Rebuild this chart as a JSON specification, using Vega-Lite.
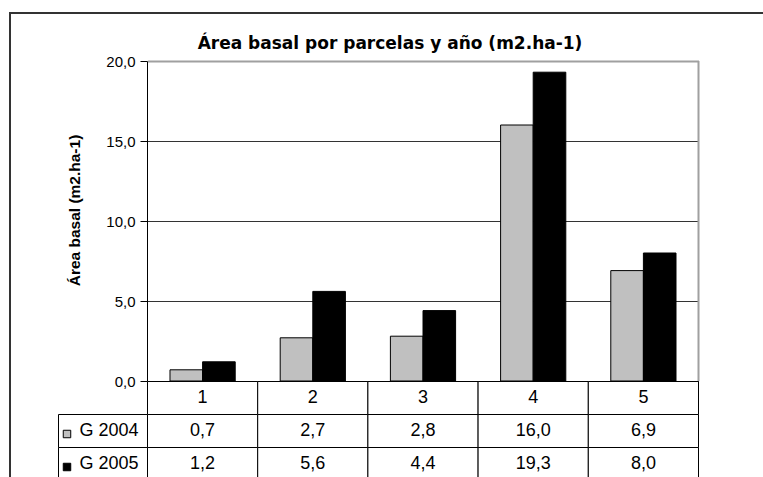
{
  "$schema": "https://vega.github.io/schema/vega-lite/v6.json",
  "width": 760,
  "height": 470,
  "autosize": {"type": "none"},
  "padding": {"left": 10, "top": 13, "right": -7, "bottom": -6},
  "title": {"text": "Área basal por parcelas y año (m2.ha-1)", "font": "DejaVu Sans", "fontSize": 17, "fontWeight": "bold", "color": "#000000", "anchor": "middle", "offset": -53, "baseline": "alphabetic"},
  "datasets": {
    "areas": [
      {"parcela": "1", "serie": "G 2004", "valor": 0.7},
      {"parcela": "1", "serie": "G 2005", "valor": 1.2},
      {"parcela": "2", "serie": "G 2004", "valor": 2.7},
      {"parcela": "2", "serie": "G 2005", "valor": 5.6},
      {"parcela": "3", "serie": "G 2004", "valor": 2.8},
      {"parcela": "3", "serie": "G 2005", "valor": 4.4},
      {"parcela": "4", "serie": "G 2004", "valor": 16.0},
      {"parcela": "4", "serie": "G 2005", "valor": 19.3},
      {"parcela": "5", "serie": "G 2004", "valor": 6.9},
      {"parcela": "5", "serie": "G 2005", "valor": 8.0}
    ]
  },
  "data": {"name": "areas"},
  "config": {
    "font": "Liberation Sans",
    "locale": {"number": {"decimal": ",", "thousands": ".", "grouping": [3], "currency": ["", " €"]}},
    "view": {"stroke": "#333333", "strokeWidth": 2},
    "text": {"color": "#000000"}
  },
  "resolve": {"scale": {"x": "independent", "y": "independent"}},
  "layer": [
    {
      "transform": [{"filter": "datum.parcela == '1' && datum.serie == 'G 2004'"}],
      "mark": {"type": "rule", "color": "#a0a0a0", "strokeWidth": 2},
      "encoding": {
        "x": {"datum": "5", "type": "nominal", "bandPosition": 1, "scale": {"domain": ["1", "2", "3", "4", "5"], "range": [137.5, 688.5], "paddingInner": 0, "paddingOuter": 0}, "axis": null},
        "y": {"datum": 20, "type": "quantitative", "scale": {"domain": [0, 20], "range": [368, 48], "nice": false}, "axis": null},
        "y2": {"datum": 0}
      }
    },
    {
      "mark": {"type": "bar", "stroke": "#000000", "strokeWidth": 1},
      "encoding": {
        "x": {"field": "parcela", "type": "nominal", "scale": {"domain": ["1", "2", "3", "4", "5"], "range": [137.5, 688.5], "paddingInner": 0, "paddingOuter": 0}, "axis": null},
        "xOffset": {"field": "serie", "type": "nominal", "scale": {"domain": ["G 2004", "G 2005"], "paddingInner": 0, "paddingOuter": 0.69}},
        "y": {
          "field": "valor", "type": "quantitative",
          "scale": {"domain": [0, 20], "range": [368, 48], "nice": false},
          "axis": {
            "title": "Área basal (m2.ha-1)",
            "values": [0, 5, 10, 15, 20],
            "format": ".1f",
            "offset": -137,
            "grid": true,
            "gridColor": {"condition": {"test": "datum.value == 20", "value": "#a0a0a0"}, "value": "#333333"},
            "gridWidth": {"condition": {"test": "datum.value == 20", "value": 2}, "value": 1},
            "domainColor": "#000000",
            "tickColor": "#000000",
            "tickSize": 7,
            "labelPadding": 5,
            "labelFontSize": 15,
            "labelColor": "#000000",
            "titleFontSize": 15.5,
            "titleFontWeight": "bold",
            "titleColor": "#000000",
            "titlePadding": 23,
            "titleY": 197
          }
        },
        "color": {"field": "serie", "type": "nominal", "scale": {"domain": ["G 2004", "G 2005"], "range": ["#c0c0c0", "#000000"]}, "legend": null}
      }
    },
    {
      "transform": [{"filter": "datum.serie == 'G 2004'"}],
      "encoding": {
        "x": {"field": "parcela", "type": "nominal", "scale": {"domain": ["1", "2", "3", "4", "5"], "range": [137.5, 688.5], "paddingInner": 0, "paddingOuter": 0}, "axis": null},
        "y": {"datum": "h", "type": "nominal", "scale": {"domain": ["h", "G 2004", "G 2005"], "range": [368.5, 467.5], "paddingInner": 0, "paddingOuter": 0}, "axis": null}
      },
      "layer": [
        {"mark": {"type": "rect", "fill": "#ffffff", "stroke": "#000000", "strokeWidth": 1}},
        {"mark": {"type": "text", "fontSize": 18, "baseline": "middle", "align": "center"}, "encoding": {"text": {"field": "parcela"}}}
      ]
    },
    {
      "encoding": {
        "x": {"field": "parcela", "type": "nominal", "scale": {"domain": ["1", "2", "3", "4", "5"], "range": [137.5, 688.5], "paddingInner": 0, "paddingOuter": 0}, "axis": null},
        "y": {"field": "serie", "type": "nominal", "scale": {"domain": ["h", "G 2004", "G 2005"], "range": [368.5, 467.5], "paddingInner": 0, "paddingOuter": 0}, "axis": null}
      },
      "layer": [
        {"mark": {"type": "rect", "fill": "#ffffff", "stroke": "#000000", "strokeWidth": 1}},
        {"mark": {"type": "text", "fontSize": 18, "baseline": "middle", "align": "center"}, "encoding": {"text": {"field": "valor", "type": "quantitative", "format": ".1f"}}}
      ]
    },
    {
      "transform": [{"filter": "datum.parcela == '1'"}],
      "encoding": {
        "y": {"field": "serie", "type": "nominal", "scale": {"domain": ["h", "G 2004", "G 2005"], "range": [368.5, 467.5], "paddingInner": 0, "paddingOuter": 0}, "axis": null}
      },
      "layer": [
        {
          "mark": {"type": "rect", "fill": "#ffffff", "stroke": "#000000", "strokeWidth": 1},
          "encoding": {"x": {"datum": "lab", "type": "nominal", "scale": {"domain": ["lab"], "range": [48.5, 137.5], "paddingInner": 0, "paddingOuter": 0}, "axis": null}}
        },
        {
          "mark": {"type": "point", "shape": "square", "filled": true, "size": 56, "stroke": "#000000", "strokeWidth": 1, "opacity": 1, "xOffset": 8.5, "yOffset": 3},
          "encoding": {
            "x": {"datum": "lab", "type": "nominal", "bandPosition": 0, "scale": {"domain": ["lab"], "range": [48.5, 137.5], "paddingInner": 0, "paddingOuter": 0}, "axis": null},
            "color": {"field": "serie", "type": "nominal", "scale": {"domain": ["G 2004", "G 2005"], "range": ["#c0c0c0", "#000000"]}, "legend": null}
          }
        },
        {
          "mark": {"type": "text", "fontSize": 18, "baseline": "middle", "align": "left", "dx": 21},
          "encoding": {
            "x": {"datum": "lab", "type": "nominal", "bandPosition": 0, "scale": {"domain": ["lab"], "range": [48.5, 137.5], "paddingInner": 0, "paddingOuter": 0}, "axis": null},
            "text": {"field": "serie"}
          }
        }
      ]
    }
  ]
}
